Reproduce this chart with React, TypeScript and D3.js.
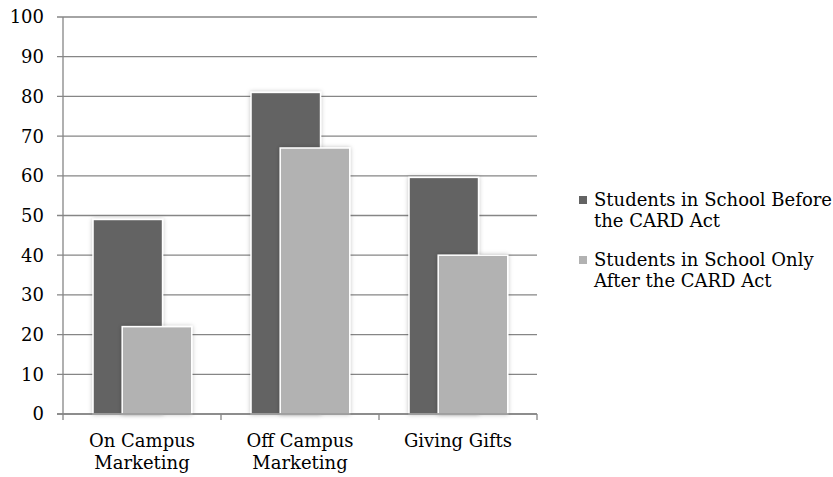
import React from "react";
import * as d3 from "d3";

const categories = [["On Campus", "Marketing"], ["Off Campus", "Marketing"], ["Giving Gifts"]];
const seriesNames = [
  ["Students in School Before", "the CARD Act"],
  ["Students in School Only", "After the CARD Act"],
];
const beforeValues = [49, 81, 59.6];
const afterValues = [22, 67, 40];
const yTicks = [0, 10, 20, 30, 40, 50, 60, 70, 80, 90, 100];
const colors = ["#636363", "#b2b2b2"];

const W = 833;
const H = 477;
const left = 63;
const right = 537;
const top = 17;
const bottom = 414;
const font = "'DejaVu Serif', serif";
const fs = 18;

export default function App() {
  const y = d3.scaleLinear().domain([0, 100]).range([bottom, top]);
  const x = d3.scaleBand<number>().domain(d3.range(categories.length)).range([left, right]).padding(0);
  const cw = x.bandwidth();
  const barW = cw * 0.44;
  const gapHalf = cw * 0.19;
  const step = barW * 0.42;
  const series = [beforeValues, afterValues];
  const axisColor = "#868686";

  return (
    <svg width={W} height={H} style={{ position: "absolute", left: 0, top: 0 }}>
      <defs>
        <filter id="barShadow" x="-20%" y="-10%" width="140%" height="120%">
          <feDropShadow dx="0" dy="0" stdDeviation="2" floodColor="#000" floodOpacity="0.25" />
        </filter>
      </defs>
      {yTicks.map((t) => (
        <g key={t}>
          <line x1={left - 6} x2={right} y1={y(t)} y2={y(t)} stroke={axisColor} strokeWidth={1.3} />
          <text x={left - 19} y={y(t)} dy="0.36em" textAnchor="end" fontFamily={font} fontSize={fs} fill="#000">
            {t}
          </text>
        </g>
      ))}
      {categories.map((_, i) => (
        <g key={i}>
          {series.map((vals, s) => {
            const bx = (x(i) as number) + gapHalf + s * step;
            return (
              <rect
                key={s}
                x={bx}
                y={y(vals[i])}
                width={barW}
                height={bottom - y(vals[i])}
                fill={colors[s]}
                stroke="#fff"
                strokeWidth={1.5}
                filter="url(#barShadow)"
              />
            );
          })}
        </g>
      ))}
      <line x1={left} x2={left} y1={top} y2={bottom} stroke={axisColor} strokeWidth={1.3} />
      <line x1={left - 6} x2={right} y1={bottom} y2={bottom} stroke={axisColor} strokeWidth={1.5} />
      {d3.range(categories.length + 1).map((i) => {
        const tx = left + i * cw;
        return <line key={i} x1={tx} x2={tx} y1={bottom} y2={bottom + 6} stroke={axisColor} strokeWidth={1.3} />;
      })}
      {categories.map((lines, i) => (
        <text key={i} textAnchor="middle" fontFamily={font} fontSize={fs} fill="#000">
          {lines.map((ln, k) => (
            <tspan key={k} x={(x(i) as number) + cw / 2} y={447 + k * 22}>
              {ln}
            </tspan>
          ))}
        </text>
      ))}
      {seriesNames.map((lines, s) => {
        const ly = 206 + s * 60;
        return (
          <g key={s}>
            <rect x={579} y={ly - 10} width={8} height={8} fill={colors[s]} />
            <text fontFamily={font} fontSize={fs} fill="#000">
              {lines.map((ln, k) => (
                <tspan key={k} x={594} y={ly + k * 21}>
                  {ln}
                </tspan>
              ))}
            </text>
          </g>
        );
      })}
    </svg>
  );
}
